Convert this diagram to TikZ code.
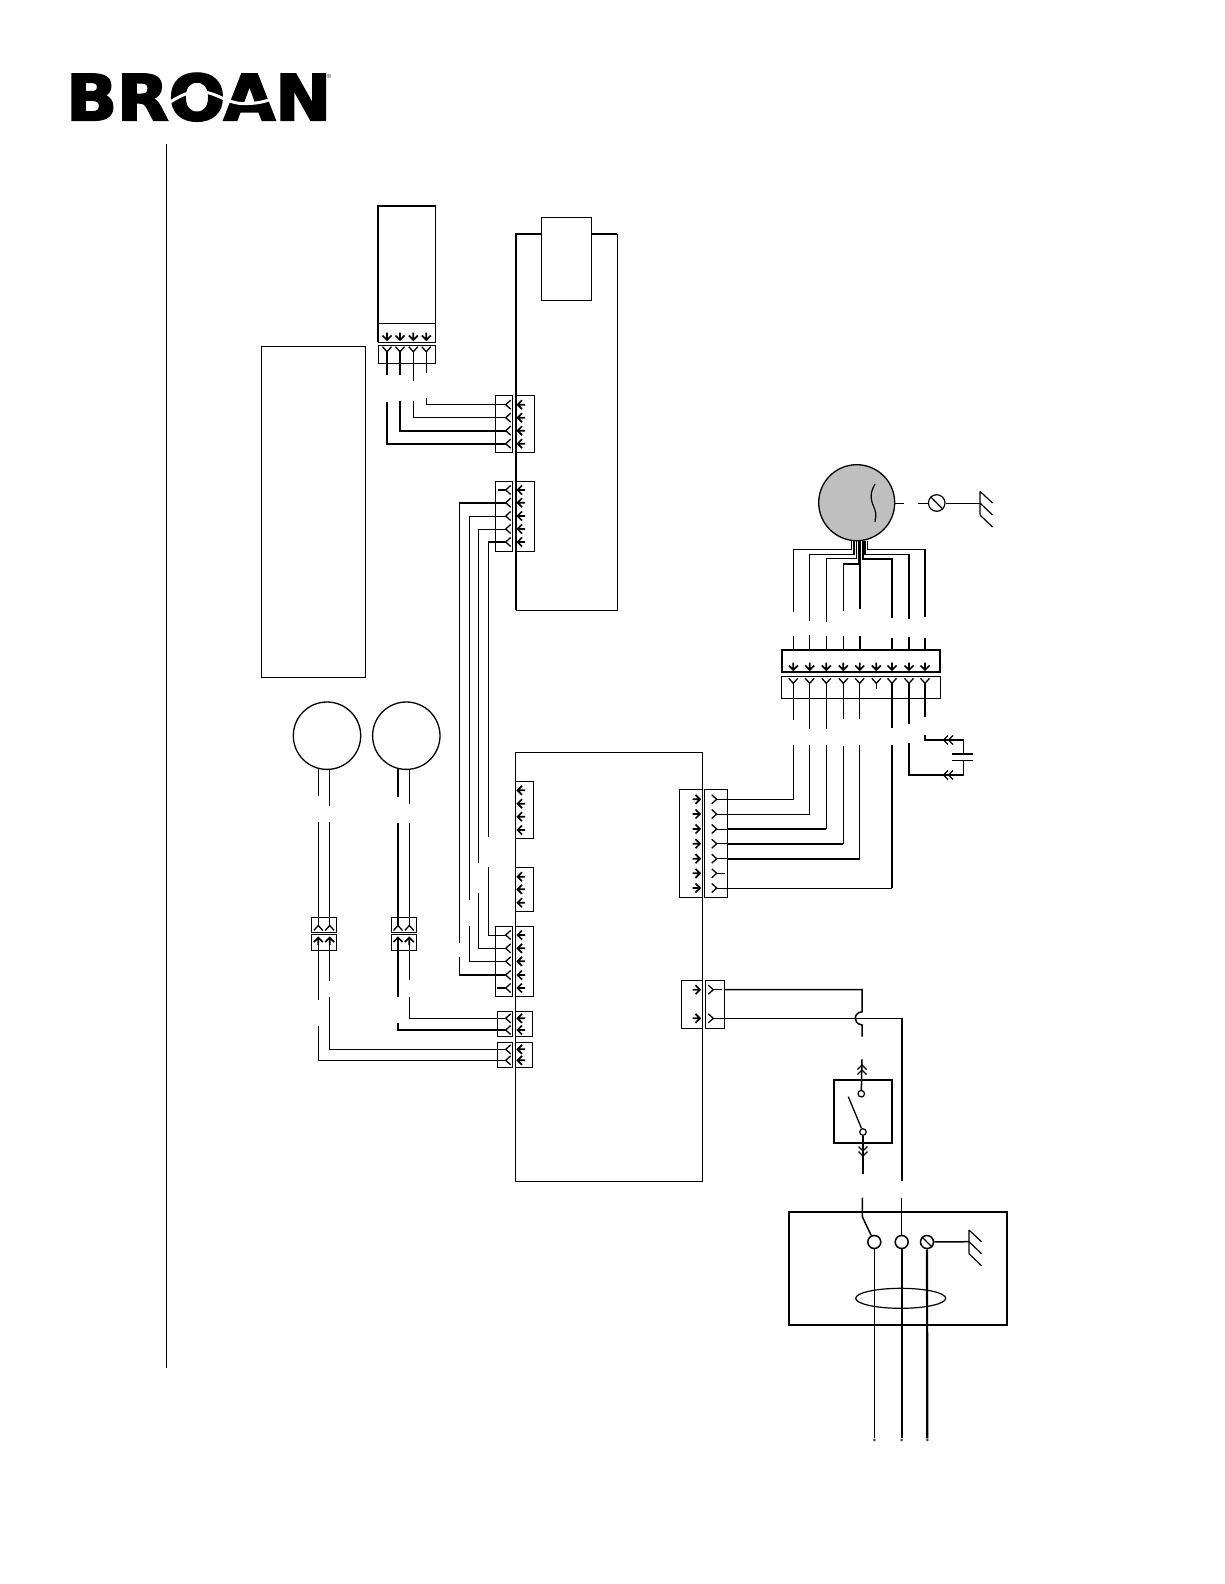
\documentclass[tikz,border=0pt]{standalone}
\usepackage{fontspec}
\usepackage{tikz}
\usetikzlibrary{shapes.geometric}
\newfontfamily\logofont[FakeBold=3]{DejaVu Sans}
\tikzset{
  thinw/.style={line width=1pt},
  medw/.style={line width=1.5pt},
  thickw/.style={line width=2.2pt},
  block/.style={draw,line width=1pt,inner sep=0pt,outer sep=0pt,anchor=north west},
  term/.style={circle,draw,fill=white,line width=1.5pt,inner sep=0pt,minimum size=13pt},
  post/.style={circle,draw,fill=white,line width=1.2pt,inner sep=0pt,minimum size=6.5pt},
  enddot/.style={circle,fill=black!70,inner sep=0pt,minimum size=3pt},
  pics/arrowpin/.style={code={\draw[line width=1.7pt] (-7.5,0)--(0,0) (-4.5,-4.5)--(0,0)--(-4.5,4.5);}},
  pics/forkpin/.style={code={\draw[line width=1.3pt] (5,-4.5)--(0,0)--(5,4.5);}},
  pics/dblpin/.style={code={\draw[line width=1.3pt] (-4.5,-4.5)--(0,0)--(-4.5,4.5) (0.5,-4.5)--(5,0)--(0.5,4.5);}},
  pics/gnd/.style={code={\draw[line width=1.2pt] (0,-11.7)--(0,11.7) (0,-11.7)--(12.5,0) (0,0)--(12.5,12) (0,12)--(12.5,24);}}
}
\begin{document}
\begin{tikzpicture}[x=1pt,y=-1pt]
\useasboundingbox (0,0) rectangle (1224,1584);

% logo
\node[inner sep=0pt,anchor=north west] (logo) at (66,73) {\resizebox{265pt}{47pt}{\logofont\bfseries BROAN}};
\draw[white,line width=3pt] (166.7,104.3) .. controls (178,97) and (188,91) .. (200,91.5) .. controls (216,92) and (226,103) .. (242,103.5) .. controls (255,104) and (266,102) .. (276.7,96.7);
\node[inner sep=0pt,font=\fontsize{6}{6}\selectfont] (regmark) at (329,76) {®};

% page rule
\coordinate (ruletop) at (166.3,144);
\coordinate (rulebot) at (166.3,1368);
\draw[line width=1.2pt] (ruletop) -- (rulebot);

% boards
\node[block,minimum width=104pt,minimum height=331pt] (legend) at (261.5,346) {};
\node[block,minimum width=57.3pt,minimum height=136.6pt] (display) at (378,205.7) {};
\draw[line width=2pt] (display.south west) -- (display.north west) -- (display.north east);
\draw[thinw] (display.west |- 0,323.3) -- (display.east |- 0,323.3);
\node[block,minimum width=101.3pt,minimum height=376.3pt] (boardA) at (516,234) {};
\draw[line width=2pt] (boardA.south west) -- (boardA.north west) -- (boardA.north east);
\node[block,fill=white,minimum width=50.4pt,minimum height=83pt] (module) at (541.3,217.3) {};
\node[block,minimum width=187.7pt,minimum height=428.5pt] (boardB) at (515,752.8) {};

% connector blocks
\node[block,minimum width=57pt,minimum height=17.5pt] (jDm) at (378.5,345.5) {};
\node[block,minimum width=17.4pt,minimum height=57.4pt] (jAm) at (495.3,395.3) {};
\node[block,minimum width=18.6pt,minimum height=57.4pt] (jAf) at (515.7,395.3) {};
\node[block,minimum width=17.4pt,minimum height=70pt] (jBm) at (495.3,481.3) {};
\node[block,minimum width=18.6pt,minimum height=70pt] (jBf) at (515.7,481.3) {};
\node[block,minimum width=17.6pt,minimum height=57pt] (jCf) at (515.7,781.3) {};
\node[block,minimum width=17.6pt,minimum height=44pt] (jEf) at (515.7,867.3) {};
\node[block,minimum width=17.4pt,minimum height=70.7pt] (jFm) at (495.3,926) {};
\node[block,minimum width=17.6pt,minimum height=70.7pt] (jFf) at (515.7,926) {};
\node[block,minimum width=15.4pt,minimum height=25.4pt] (jGm) at (497.3,1011.3) {};
\node[block,minimum width=17pt,minimum height=25.4pt] (jGf) at (515.7,1011.3) {};
\node[block,minimum width=15.4pt,minimum height=25.4pt] (jHm) at (497.3,1042.3) {};
\node[block,minimum width=17pt,minimum height=25.4pt] (jHf) at (515.7,1042.3) {};
\node[block,minimum width=23.4pt,minimum height=108pt] (jKf) at (679.3,789.3) {};
\node[block,minimum width=23pt,minimum height=108pt] (jKm) at (704.7,789.3) {};
\node[block,minimum width=21.4pt,minimum height=48.4pt] (jLf) at (681.3,980.3) {};
\node[block,minimum width=19pt,minimum height=48.4pt] (jLm) at (705.3,980.3) {};
\node[block,line width=1.9pt,minimum width=158.6pt,minimum height=22pt] (jMf) at (781.7,650) {};
\node[block,minimum width=158.6pt,minimum height=21.6pt] (jMm) at (781.7,676.7) {};
\node[block,minimum width=25.4pt,minimum height=15pt] (jPm) at (311.3,917.3) {};
\node[block,minimum width=25.4pt,minimum height=16pt] (jPf) at (311.3,934.7) {};
\node[block,minimum width=25.4pt,minimum height=15pt] (jQm) at (391.3,917.3) {};
\node[block,minimum width=25.4pt,minimum height=16pt] (jQf) at (391.3,934.7) {};

% display connector and its run to board A
\foreach \n/\x/\ly/\st in {1/387/375/thickw,2/400/375/thickw,3/413.3/381/medw,4/426.3/372.7/thinw} {
  \pic[rotate=-90] at (\x,340) {arrowpin};
  \pic[rotate=90] at (\x,351.7) {forkpin};
  \coordinate (dp\n) at (\x,351.7);
  \coordinate (de\n) at (\x,\ly);
  \draw[\st] (dp\n) -- (de\n);
}
\foreach \n/\y in {1/404.7,2/417.7,3/430.7,4/443.7} {
  \pic[rotate=180] at (517.5,\y) {arrowpin};
  \pic at (505.7,\y) {forkpin};
  \coordinate (pa\n) at (505.7,\y);
}
\foreach \n/\x/\y/\st in {1/426.3/398/thinw,2/413.3/400.7/medw,3/400/400.7/thickw,4/387/402/thickw} {
  \coordinate (ds\n) at (\x,\y);
  \draw[\st] (ds\n) |- (pa\n);
}

% run from board A to board B
\foreach \n/\y in {1/490,2/502.7,3/516,4/529,5/542} {
  \pic[rotate=180] at (517.5,\y) {arrowpin};
  \pic at (505.7,\y) {forkpin};
  \coordinate (pb\n) at (505.7,\y);
}
\foreach \n/\y in {1/935,2/948.3,3/961.3,4/975,5/988} {
  \pic[rotate=180] at (517.5,\y) {arrowpin};
  \pic at (505.7,\y) {forkpin};
  \coordinate (pf\n) at (505.7,\y);
}
\coordinate (stubb) at (498.3,490);
\coordinate (stubf) at (497.3,988);
\draw[medw] (stubb) -- (pb1);
\draw[medw] (stubf) -- (pf5);
\foreach \n/\x/\ya/\yb/\m/\st in {2/459.3/943.3/957.3/4/thickw,3/469.3/900/926/3/thinw,4/478.3/863.3/892.7/2/thinw,5/488.3/837.3/867.3/1/medw} {
  \coordinate (ua\n) at (\x,\ya);
  \coordinate (ub\n) at (\x,\yb);
  \draw[thinw] (pb\n -| ua\n) -- (ua\n);
  \draw[thinw] (ub\n) -- (ub\n |- pf\m);
  \draw[\st] (pb\n) -- (pb\n -| ua\n);
}
\draw[thinw] (pf1) -- (pf1 -| ub5);
\draw[thinw] (pf2) -- (pf2 -| ub4);
\draw[thinw] (pf3) -- (pf3 -| ub3);
\draw[thickw] (pf4) -- (pf4 -| ub2);
\foreach \y in {790.3,803.7,816.7,830,876.7,889.3,902.7} {
  \pic[rotate=180] at (517.5,\y) {arrowpin};
}

% fans
\coordinate (fancy) at (0,735.7);
\foreach \n/\x/\ya/\yb/\st in {1/318.3/796/821.7/thinw,2/329.7/805.7/821.7/medw,3/398/796.7/822.7/thickw,4/409.3/804.3/822.7/medw} {
  \pic[rotate=90] at (\x,937.5) {arrowpin};
  \pic[rotate=-90] at (\x,925.5) {forkpin};
  \coordinate (fa\n) at (\x,\ya);
  \coordinate (fb\n) at (\x,\yb);
  \coordinate (fc\n) at (\x,925.5);
  \draw[\st] (fa\n |- fancy) -- (fa\n);
  \draw[\st] (fb\n) -- (fc\n);
}
\node[circle,draw,line width=1.3pt,fill=white,inner sep=0pt,minimum size=67.4pt] (fanA) at (327,735.7) {};
\node[circle,draw,line width=1.3pt,fill=white,inner sep=0pt,minimum size=67.4pt] (fanB) at (406.3,735.7) {};
\foreach \n/\y in {1/1018.3,2/1030,3/1049.3,4/1060.3} {
  \pic[rotate=180] at (517.5,\y) {arrowpin};
  \pic at (505.7,\y) {forkpin};
  \coordinate (pg\n) at (505.7,\y);
}
\foreach \n/\x/\ya/\yb/\m/\st in {1/318.3/1000/1026/4/thinw,2/329.3/980.7/996.7/3/thinw,3/398/997.3/1023.3/2/thickw,4/409.3/980/996.7/1/medw} {
  \coordinate (fd\n) at (\x,944);
  \coordinate (fe\n) at (\x,\ya);
  \coordinate (ff\n) at (\x,\yb);
  \draw[\st] (fd\n) -- (fe\n);
  \draw[\st] (ff\n) |- (pg\m);
}

% motor, wires first so the disc sits on top
\node[circle,draw,fill=black!25,line width=1.3pt,inner sep=0pt,minimum size=76pt] (motor) at (856.7,502.7) {};
\foreach \n/\x/\hy/\bx/\ly/\ry/\st in {1/793.3/549.3/851.7/611.7/635.7/thinw,2/809.7/554.3/854/620.7/635/medw,3/826.3/558.7/856/621.7/636/thinw,4/843.3/564/858.3/610.7/636/medw,6/892/558.7/863/618.3/637.7/thickw,7/909/554.3/865/619/637/medw,8/925/549.3/867.3/616.7/637.7/medw} {
  \coordinate (mw\n) at (\x,\ly);
  \coordinate (mb\n) at (\bx,\hy);
  \coordinate (mr\n) at (\x,\ry);
  \draw[\st] (mw\n) |- (mb\n) -- (mb\n |- motor.south);
  \draw[\st] (mr\n) -- (mr\n |- jMf.north);
}
\coordinate (mw5) at (859.7,609.3);
\coordinate (mr5) at (859.7,636);
\draw[thickw] (mw5) -- (mw5 |- motor.south);
\draw[thickw] (mr5) -- (mr5 |- jMf.north);
\draw[line width=1.2pt] (875,484) .. controls (868,496) and (872,502) .. (875,510) .. controls (877,515) and (875,519) .. (875,522);

% motor ground
\coordinate (mg1) at (894.3,503);
\coordinate (mg2) at (904,503);
\coordinate (mg3) at (918.3,503);
\node[post,minimum size=16.6pt] (mscrew) at (936.7,503) {};
\draw[line width=1.2pt] (mscrew.135) -- (mscrew.-45);
\coordinate (mgnd) at (980,503);
\draw[thinw] (mg1) -- (mg2);
\draw[thinw] (mg3) -- (mscrew);
\draw[thinw] (mscrew) -- (mgnd);
\pic at (mgnd) {gnd};

% motor plug pins and lower run
\foreach \n/\x in {1/793.3,2/809.7,3/826.3,4/843.3,5/859.7,9/876.3,6/892,7/909,8/925} {
  \pic[rotate=-90] at (\x,670) {arrowpin};
  \pic[rotate=90] at (\x,683.3) {forkpin};
  \coordinate (mm\n) at (\x,683.3);
}
\foreach \n/\y in {1/799.3,2/814,3/829,4/843.7,5/858.7,6/873.3,7/888} {
  \pic at (700,\y) {arrowpin};
  \pic[rotate=180] at (716.7,\y) {forkpin};
  \coordinate (pk\n) at (716.7,\y);
}
\coordinate (stubk) at (725,873.3);
\draw[thinw] (pk6) -- (stubk);
\coordinate (stubm) at (876.3,689);
\draw[medw] (mm9) -- (stubm);
\foreach \n/\ly/\ry/\st in {1/720/745/thinw,2/729.3/745/medw,3/729.3/745/thinw,4/719.3/746/thinw,5/719.3/745/thinw} {
  \coordinate (ml\n) at (mm\n |- 0,\ly);
  \coordinate (mn\n) at (mm\n |- 0,\ry);
  \draw[\st] (mm\n) -- (ml\n);
}
\coordinate (ml6) at (892,728.3);
\coordinate (ml7) at (909,724);
\coordinate (ml8) at (925,716.7);
\draw[thickw] (mm6) -- (ml6);
\draw[medw] (mm7) -- (ml7);
\draw[medw] (mm8) -- (ml8);
\coordinate (mn6) at (892,745);
\draw[thinw] (pk1) -| (mn1);
\draw[thinw] (pk2) -- (pk2 -| mn2);
\draw[medw] (pk2 -| mn2) -- (mn2);
\draw[thinw] (pk3) -- (jKm.east |- pk3);
\draw[thickw] (jKm.east |- pk3) -- (pk3 -| mn3);
\draw[thinw] (pk3 -| mn3) -- (mn3);
\draw[thinw] (pk4) -- (jKm.east |- pk4);
\draw[thickw] (jKm.east |- pk4) -- (pk4 -| mn4);
\draw[thinw] (pk4 -| mn4) -- (mn4);
\draw[thinw] (pk5) -- (jKm.east |- pk5);
\draw[thickw] (jKm.east |- pk5) -- (pk5 -| mn5);
\draw[thinw] (pk5 -| mn5) -- (mn5);
\draw[thinw] (pk7) -- (pk7 -| mn6);
\draw[medw] (pk7 -| mn6) -- (mn6);

% capacitor
\coordinate (capa) at (925,735);
\coordinate (capb) at (963.3,754);
\coordinate (capc) at (963.3,760.7);
\coordinate (capd) at (909,742.7);
\draw[medw] (capa) |- (963.3,740) -- (capb);
\draw[medw] (capc) -- (963.3,775) -- (909,775) -- (capd);
\draw[medw] (952.3,754) -- (973.3,754) (952.3,760.7) -- (973.3,760.7);
\pic[rotate=180] at (948.5,740) {dblpin};
\pic[rotate=180] at (948.5,775) {dblpin};

% line input to board B
\foreach \n/\y in {1/989.7,2/1018.3} {
  \pic at (700,\y) {arrowpin};
  \pic[rotate=180] at (713.3,\y) {forkpin};
  \coordinate (pl\n) at (713.3,\y);
}
\coordinate (lstub) at (721.7,989.7);
\coordinate (lbox) at (724.3,989.7);
\coordinate (hopa) at (862,1011.7);
\coordinate (hopb) at (862,1025);
\coordinate (lend) at (862,1036.7);
\coordinate (nlow) at (902,1181);
\draw[medw] (pl1) -- (lstub);
\draw[medw] (lbox) -| (hopa) .. controls (856.5,1012.5) and (855.3,1016) .. (855.3,1018.3) .. controls (855.3,1021) and (856.5,1024) .. (hopb) -- (lend);
\draw[thinw] (pl2) -- (902,1018.3);
\draw[medw] (902,1018.3) -- (nlow);

% switch
\node[block,line width=1.9pt,minimum width=58pt,minimum height=63pt] (switch) at (834.3,1080.3) {};
\node[post] (swtop) at (861.3,1093.7) {};
\node[post] (swbot) at (863,1132) {};
\coordinate (swup) at (862,1059.3);
\coordinate (swdown) at (863,1174.3);
\coordinate (blade) at (848.3,1096.7);
\draw[medw] (swup) -- (swtop);
\draw[medw] (swbot) -- (swdown);
\draw[line width=1.3pt] (blade) -- (swbot);
\pic[rotate=90] at (862,1070) {dblpin};
\pic[rotate=-90] at (863,1151) {dblpin};

% junction box
\node[block,line width=1.9pt,minimum width=218.6pt,minimum height=113.3pt] (jbox) at (788.7,1212) {};
\coordinate (hotin) at (862.3,1197.7);
\coordinate (hotb) at (862.3,1216.7);
\coordinate (neutin) at (901.7,1197.7);
\node[term] (tL) at (874.3,1242) {};
\node[term] (tN) at (901.7,1242) {};
\node[term] (tG) at (927,1242) {};
\node[enddot] (eL) at (874.3,1440) {};
\node[enddot] (eN) at (901.7,1440) {};
\node[enddot] (eG) at (927.3,1440) {};
\draw[medw] (hotin) -- (hotb) -- (tL);
\draw[medw] (neutin) -- (tN);
\draw[thinw] (tL) -- (eL);
\draw[thickw] (tN) -- (eN);
\draw[thickw] (tG) -- (eG);
\draw[line width=1.3pt] (tG.135) -- (tG.-45);
\coordinate (jgnd) at (969,1241.7);
\draw[line width=1.5pt] (tG) -- (jgnd);
\pic at (jgnd) {gnd};
\node[ellipse,draw,line width=1.2pt,inner sep=0pt,minimum width=90pt,minimum height=20pt] (cord) at (900.7,1298.3) {};
\end{tikzpicture}
\end{document}
